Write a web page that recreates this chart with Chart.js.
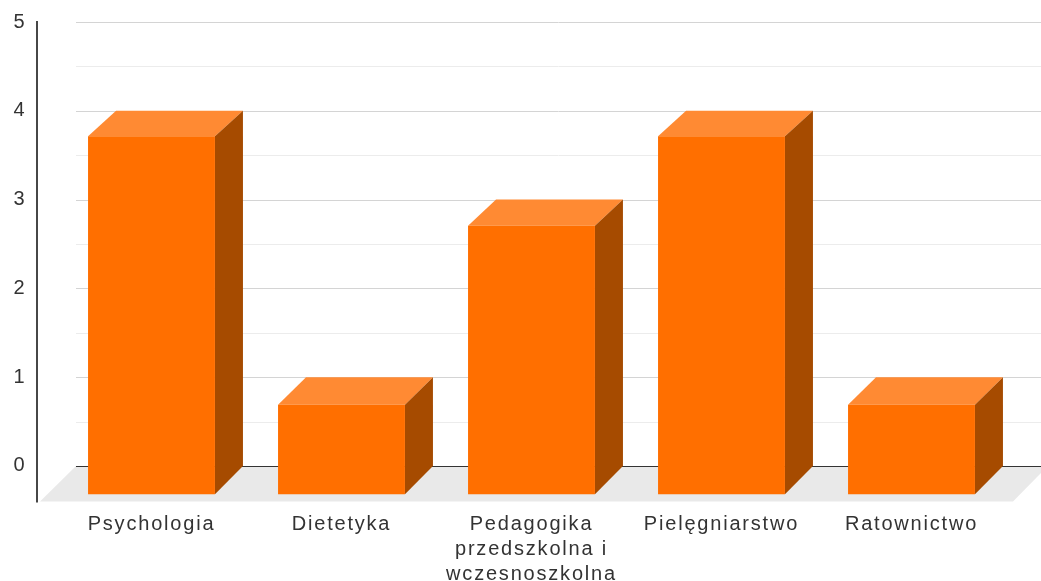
<!DOCTYPE html>
<html><head><meta charset="utf-8">
<style>html,body{margin:0;padding:0;background:#fff;overflow:hidden}canvas{display:block}</style>
<script src="https://cdn.jsdelivr.net/npm/chart.js@4"></script>
</head><body><canvas id="c" width="1041" height="581"></canvas>
<script>
const categories = ["Psychologia","Dietetyka",["Pedagogika","przedszkolna i","wczesnoszkolna"],"Pielęgniarstwo","Ratownictwo"];
const values = [4,1,3,4,1];
const yTicks = [0,0.5,1,1.5,2,2.5,3,3.5,4,4.5,5];
const FRONT="#ff6f00", TOP="#ff8a33", SIDE="#a64b00", TEXT="#333333";
const DX=28;
const box3d={
  id:'box3d',
  beforeDraw(chart){ chart.ctx.letterSpacing='1.8px'; },
  beforeDatasetsDraw(chart){
    const c=chart.ctx,y=chart.scales.y,a=chart.chartArea;
    const y0=y.getPixelForValue(0),W=chart.width,b=a.bottom;
    c.save();
    // floor
    c.fillStyle="#e9e9e9";
    c.beginPath();c.moveTo(40,b);c.lineTo(76,y0);c.lineTo(W,y0);c.lineTo(W,y0+7);c.lineTo(1013,b);c.closePath();c.fill();
    // grid
    y.ticks.forEach(t=>{
      const p=Math.round(y.getPixelForValue(t.value))+0.5;
      const major=Number.isInteger(t.value);
      c.strokeStyle=t.value===0?"#333333":(major?"#d4d4d4":"#ececec");
      c.lineWidth=t.value===0?1.2:1;
      c.beginPath();c.moveTo(76,p);c.lineTo(W,p);c.stroke();
    });
    // axis line
    c.strokeStyle="#333333";c.lineWidth=1.8;
    c.beginPath();c.moveTo(37,a.top-1);c.lineTo(37,b+1);c.stroke();
    // 3D faces
    chart.getDatasetMeta(0).data.forEach((el,i)=>{
      const v=values[i],h=el.width/2,l=el.x-h,r=el.x+h;
      const ft=el.y,fb=el.base,bt=y.getPixelForValue(v),bb=y.getPixelForValue(0);
      c.fillStyle=TOP;
      c.beginPath();c.moveTo(l,ft);c.lineTo(l+DX,bt);c.lineTo(r+DX,bt);c.lineTo(r,ft);c.closePath();c.fill();
      c.fillStyle=SIDE;
      c.beginPath();c.moveTo(r,ft);c.lineTo(r+DX,bt);c.lineTo(r+DX,bb);c.lineTo(r,fb);c.closePath();c.fill();
    });
    c.restore();
  }
};
new Chart(document.getElementById('c'),{
  type:'bar',
  data:{labels:categories,datasets:[{data:values,backgroundColor:FRONT,borderWidth:0,yAxisID:'yFront',barPercentage:1,categoryPercentage:0.668}]},
  plugins:[box3d],
  options:{
    responsive:false,animation:false,
    layout:{padding:{top:22,right:34.5,left:0,bottom:0}},
    plugins:{legend:{display:false},tooltip:{enabled:false}},
    scales:{
      x:{
        grid:{display:false,drawTicks:false},border:{display:false},
        afterFit(s){s.height=79.5;s.paddingTop=0;s.paddingBottom=0;s.paddingLeft=0;s.paddingRight=0;},
        ticks:{autoSkip:false,maxRotation:0,minRotation:0,padding:10.5,color:TEXT,font:{family:"'Liberation Sans'",size:20,lineHeight:1.25}}
      },
      y:{
        min:-0.4,max:5,
        grid:{display:false,drawTicks:false},border:{display:false},
        afterFit(s){s.width=56.5;s.paddingTop=0;s.paddingBottom=0;s.paddingLeft=0;s.paddingRight=0;},
        afterBuildTicks(s){s.ticks=yTicks.map(v=>({value:v}));},
        ticks:{padding:30,color:TEXT,font:{family:"'Liberation Sans'",size:20},
          callback:v=>Number.isInteger(v)?String(v):''}
      },
      yFront:{display:false,min:-0.08,max:5.277}
    }
  }
});
</script></body></html>
